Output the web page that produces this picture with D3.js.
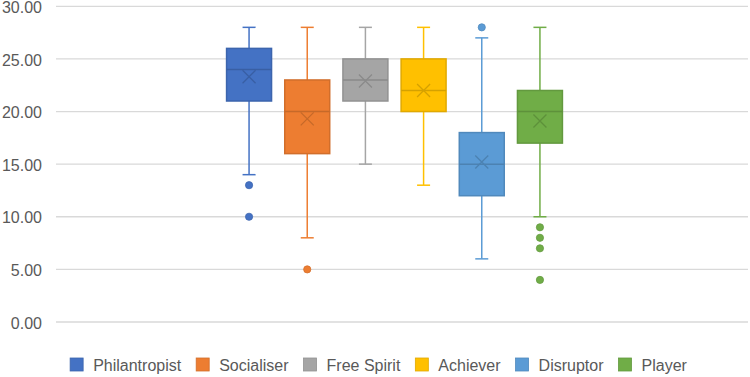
<!DOCTYPE html>
<meta charset="utf-8">
<style>
body { margin: 0; background: #fff; }
svg { display: block; font-family: "Liberation Sans", Arial, sans-serif; }
.axis text { font-size: 16px; fill: #595959; }
.legend text { font-size: 16px; fill: #595959; }
</style>
<body>
<svg></svg>
<script src="https://d3js.org/d3.v7.min.js"></script>
<script>

// data
var series = ["Philantropist", "Socialiser", "Free Spirit", "Achiever", "Disruptor", "Player"];
var colors = ["#4472C4", "#ED7D31", "#A5A5A5", "#FFC000", "#5B9BD5", "#70AD47"];
var whiskerLow = [14, 8, 15, 13, 6, 10];
var q1 = [21, 16, 21, 20, 12, 17];
var median = [24, 20, 23, 22, 15, 20];
var q3 = [26, 23, 25, 25, 18, 22];
var whiskerHigh = [28, 28, 28, 28, 27, 28];
var means = [23.3, 19.3, 22.9, 22.0, 15.2, 19.1];
var outliers = [[13, 10], [5], [], [], [28], [9, 8, 7, 4]];
var yTicks = [0, 5, 10, 15, 20, 25, 30];

var width = 750, height = 377;
var plot = {left: 56, right: 748, top: 6.3, bottom: 322};

var svg = d3.select("svg")
    .attr("width", width)
    .attr("height", height);

var y = d3.scaleLinear()
    .domain([0, 30])
    .range([plot.bottom, plot.top]);

var x = d3.scaleBand()
    .domain(series)
    .range([220, 569])
    .paddingInner(0.227)
    .paddingOuter(0.113);

// gridlines
svg.append("g")
  .selectAll("line")
  .data(yTicks)
  .enter().append("line")
    .attr("x1", plot.left)
    .attr("x2", plot.right)
    .attr("y1", function(d) { return y(d); })
    .attr("y2", function(d) { return y(d); })
    .attr("stroke", "#d9d9d9")
    .attr("stroke-width", 1.3);

var yAxis = d3.axisLeft(y)
    .tickValues(yTicks)
    .tickSize(0)
    .tickPadding(14)
    .tickFormat(d3.format(".2f"));

svg.append("g")
    .attr("class", "axis")
    .attr("transform", "translate(" + plot.left + ",0)")
    .call(yAxis)
    .call(function(g) { g.select(".domain").remove(); })
    .call(function(g) { g.selectAll("text").attr("dy", "0.38em"); });

var data = series.map(function(name, i) {
  return {
    name: name, color: colors[i],
    lo: whiskerLow[i], q1: q1[i], med: median[i], q3: q3[i], hi: whiskerHigh[i],
    mean: means[i], out: outliers[i]
  };
});

var bw = x.bandwidth();
var cap = 13;

var boxes = svg.selectAll(".box")
    .data(data)
    .enter().append("g")
    .attr("class", "box")
    .attr("transform", function(d) { return "translate(" + (x(d.name) + bw / 2) + ",0)"; });

// whiskers
boxes.append("line")
    .attr("y1", function(d) { return y(d.hi); })
    .attr("y2", function(d) { return y(d.q3); })
    .attr("stroke", function(d) { return d.color; })
    .attr("stroke-width", 1.5);
boxes.append("line")
    .attr("y1", function(d) { return y(d.q1); })
    .attr("y2", function(d) { return y(d.lo); })
    .attr("stroke", function(d) { return d.color; })
    .attr("stroke-width", 1.5);
boxes.append("line")
    .attr("x1", -cap / 2).attr("x2", cap / 2)
    .attr("y1", function(d) { return y(d.hi); })
    .attr("y2", function(d) { return y(d.hi); })
    .attr("stroke", function(d) { return d.color; })
    .attr("stroke-width", 1.5);
boxes.append("line")
    .attr("x1", -cap / 2).attr("x2", cap / 2)
    .attr("y1", function(d) { return y(d.lo); })
    .attr("y2", function(d) { return y(d.lo); })
    .attr("stroke", function(d) { return d.color; })
    .attr("stroke-width", 1.5);

// box
boxes.append("rect")
    .attr("x", -bw / 2)
    .attr("width", bw)
    .attr("y", function(d) { return y(d.q3); })
    .attr("height", function(d) { return y(d.q1) - y(d.q3); })
    .attr("fill", function(d) { return d.color; })
    .attr("stroke", function(d) { return d3.color(d.color).darker(0.35); })
    .attr("stroke-width", 1.5);

// median
boxes.append("line")
    .attr("x1", -bw / 2).attr("x2", bw / 2)
    .attr("y1", function(d) { return y(d.med); })
    .attr("y2", function(d) { return y(d.med); })
    .attr("stroke", function(d) { return d3.color(d.color).darker(0.5); })
    .attr("stroke-width", 1.5);

// mean marker
boxes.append("path")
    .attr("d", function(d) {
      var c = y(d.mean), s = 6.5;
      return "M" + (-s) + "," + (c - s) + "L" + s + "," + (c + s) +
             "M" + (-s) + "," + (c + s) + "L" + s + "," + (c - s);
    })
    .attr("stroke", function(d) { return d3.color(d.color).darker(0.5); })
    .attr("stroke-width", 1.3)
    .attr("fill", "none");

// outliers
boxes.selectAll("circle")
    .data(function(d) { return d.out.map(function(v) { return {v: v, color: d.color}; }); })
    .enter().append("circle")
    .attr("cy", function(d) { return y(d.v); })
    .attr("r", 3.6)
    .attr("fill", function(d) { return d.color; })
    .attr("stroke", function(d) { return d3.color(d.color).darker(0.3); })
    .attr("stroke-width", 0.8);

// legend
var legend = svg.append("g").attr("class", "legend");
var items = legend.selectAll("g")
    .data(data)
    .enter().append("g");
items.append("rect")
    .attr("width", 13)
    .attr("height", 13)
    .attr("y", -7)
    .attr("fill", function(d) { return d.color; })
    .attr("stroke", function(d) { return d3.color(d.color).darker(0.35); })
    .attr("stroke-width", 0.8);
items.append("text")
    .attr("x", 23)
    .attr("dy", "0.35em")
    .text(function(d) { return d.name; });

var offset = 0;
items.each(function() {
  var w = this.querySelector("text").getComputedTextLength();
  d3.select(this).attr("transform", "translate(" + offset + ",0)");
  offset += 23 + w + 15;
});
var total = offset - 15;
legend.attr("transform", "translate(" + (378.5 - total / 2) + ",365)");

</script>
</body>
